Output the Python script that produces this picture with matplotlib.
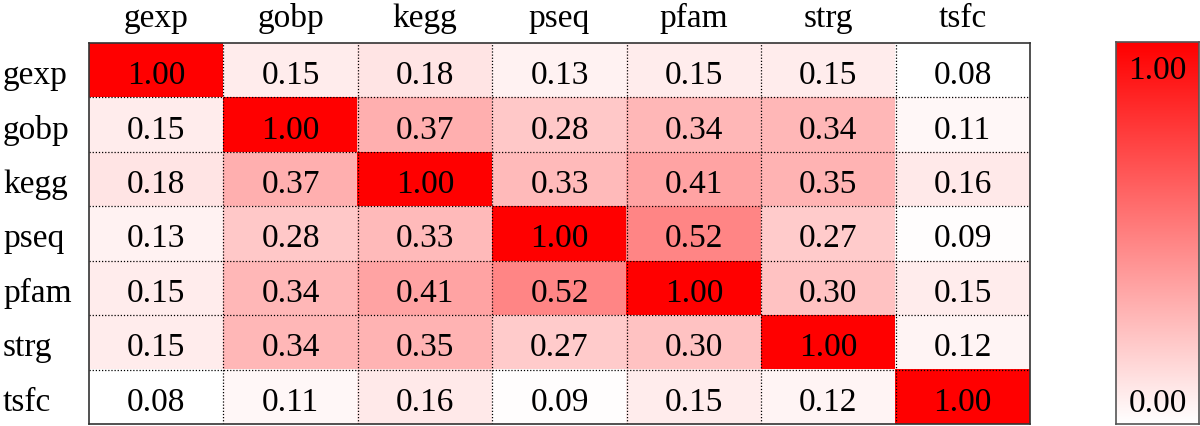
import numpy as np
import matplotlib
matplotlib.use("Agg")
import matplotlib.pyplot as plt
from matplotlib.colors import LinearSegmentedColormap
from matplotlib.transforms import blended_transform_factory, offset_copy

labels = ["gexp", "gobp", "kegg", "pseq", "pfam", "strg", "tsfc"]
row_gexp = [1.00, 0.15, 0.18, 0.13, 0.15, 0.15, 0.08]
row_gobp = [0.15, 1.00, 0.37, 0.28, 0.34, 0.34, 0.11]
row_kegg = [0.18, 0.37, 1.00, 0.33, 0.41, 0.35, 0.16]
row_pseq = [0.13, 0.28, 0.33, 1.00, 0.52, 0.27, 0.09]
row_pfam = [0.15, 0.34, 0.41, 0.52, 1.00, 0.30, 0.15]
row_strg = [0.15, 0.34, 0.35, 0.27, 0.30, 1.00, 0.12]
row_tsfc = [0.08, 0.11, 0.16, 0.09, 0.15, 0.12, 1.00]
cbar_ticks = [0.00, 1.00]

data = np.array([row_gexp, row_gobp, row_kegg, row_pseq, row_pfam, row_strg, row_tsfc])
n = len(labels)

plt.rcParams['font.family'] = ['Liberation Serif', 'DejaVu Serif']
cmap = LinearSegmentedColormap.from_list("wr", ["#ffffff", "#ff0000"])
FS = 24
PX = 72 / 100  # points per pixel

fig = plt.figure(figsize=(12, 4.27), dpi=100)
ax = fig.add_axes([89/1200, 2/427, 941/1200, 381/427])
vmin = data.min()
ax.imshow(data, cmap=cmap, vmin=vmin, vmax=1.0, aspect='auto',
          extent=(-0.5, n-0.5, n-0.5, -0.5), interpolation='nearest')
cell_tr = offset_copy(ax.transData, fig=fig, x=0, y=-13*PX, units='points')
for i in range(n):
    for j in range(n):
        ax.text(j, i, f"{data[i, j]:.2f}", ha='center', va='baseline',
                fontsize=FS, color='black', transform=cell_tr)
for k in range(1, n):
    ax.axhline(k-0.5, color='black', lw=0.9, ls=(0, (1, 1.5)))
    ax.axvline(k-0.5, color='black', lw=0.9, ls=(0, (1, 1.5)))
ax.set_xlim(-0.5, n-0.5)
ax.set_ylim(n-0.5, -0.5)
ax.set_xticks(range(n))
ax.set_xticklabels([])
ax.set_yticks(range(n))
ax.set_yticklabels([])
ax.tick_params(length=0)

row_tr = offset_copy(blended_transform_factory(fig.transFigure, ax.transData),
                     fig=fig, x=0, y=-13*PX, units='points')
for i, lab in enumerate(labels):
    ax.text(3/1200, i, lab, ha='left', va='baseline', fontsize=FS,
            transform=row_tr, clip_on=False)
col_tr = offset_copy(blended_transform_factory(ax.transData, ax.transAxes),
                     fig=fig, x=0, y=17*PX, units='points')
for j, lab in enumerate(labels):
    ax.text(j, 1.0, lab, ha='center', va='baseline', fontsize=FS,
            transform=col_tr, clip_on=False)
for s in ax.spines.values():
    s.set_color('#333333')
    s.set_linewidth(1.2)

cax = fig.add_axes([1116/1200, 2/427, 83/1200, 382/427])
grad = np.linspace(cbar_ticks[0], cbar_ticks[1], 256).reshape(-1, 1)
cax.imshow(grad, cmap=cmap, vmin=cbar_ticks[0], vmax=cbar_ticks[1], aspect='auto',
           origin='lower', extent=(0, 1, cbar_ticks[0], cbar_ticks[1]))
cax.set_xlim(0, 1)
cax.set_ylim(cbar_ticks[0], cbar_ticks[1])
cax.set_xticks([])
cax.set_yticks([])
top_tr = offset_copy(cax.transAxes, fig=fig, x=0, y=-36*PX, units='points')
bot_tr = offset_copy(cax.transAxes, fig=fig, x=0, y=13*PX, units='points')
cax.text(0.5, 1.0, f"{cbar_ticks[1]:.2f}", ha='center', va='baseline', fontsize=FS,
         transform=top_tr)
cax.text(0.5, 0.0, f"{cbar_ticks[0]:.2f}", ha='center', va='baseline', fontsize=FS,
         transform=bot_tr)
for s in cax.spines.values():
    s.set_color('#555555')
    s.set_linewidth(1.2)

fig.savefig("out.png", dpi=100)
